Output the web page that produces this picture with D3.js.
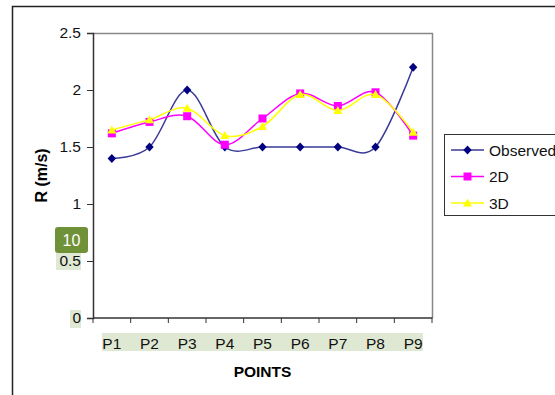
<!DOCTYPE html>
<html>
<head>
<meta charset="utf-8">
<script src="https://cdn.jsdelivr.net/npm/d3@7"></script>
<style>
  body { margin: 0; background: #fff; }
  text { font-family: "Liberation Sans", Arial, sans-serif; }
</style>
</head>
<body>
<div id="chart"></div>
<script>
// data
const points = ["P1", "P2", "P3", "P4", "P5", "P6", "P7", "P8", "P9"];
const observed = [1.4, 1.5, 2.0, 1.5, 1.5, 1.5, 1.5, 1.5, 2.2];
const twoD = [1.62, 1.72, 1.77, 1.52, 1.75, 1.97, 1.86, 1.98, 1.6];
const threeD = [1.65, 1.74, 1.84, 1.6, 1.68, 1.96, 1.82, 1.96, 1.63];
const yTicks = [0, 0.5, 1, 1.5, 2, 2.5];

const width = 555, height = 395;
const plot = { left: 93, right: 432, top: 33, bottom: 318 };
const fontSize = 15.5;

const series = [
    { name: "Observed", values: observed, color: "#000080", line: "#3a3a98", marker: "diamond" },
    { name: "2D", values: twoD, color: "#ff00ff", line: "#ff00ff", marker: "square" },
    { name: "3D", values: threeD, color: "#ffff00", line: "#ffff00", marker: "triangle" }
];

const svg = d3.select("#chart")
    .append("svg")
    .attr("width", width)
    .attr("height", height);

// outer frame
svg.append("rect")
    .attr("x", 12.5).attr("y", 6.5)
    .attr("width", 600).attr("height", 500)
    .attr("fill", "none").attr("stroke", "#222").attr("stroke-width", 1.5);

// scales
const x = d3.scaleBand()
    .domain(points)
    .range([plot.left, plot.right]);
const cx = d => x(d) + x.bandwidth() / 2;

const y = d3.scaleLinear()
    .domain([0, 2.5])
    .range([plot.bottom, plot.top]);

// plot frame (top and right gray)
svg.append("path")
    .attr("d", `M${plot.left},${plot.top + 0.5}H${plot.right + 0.5}V${plot.bottom}`)
    .attr("fill", "none").attr("stroke", "#888").attr("stroke-width", 1.5);

// highlight boxes
svg.append("rect")
    .attr("x", 102).attr("y", 333).attr("width", 321).attr("height", 18)
    .attr("fill", "#dfe8d2");
svg.append("rect")
    .attr("x", 56).attr("y", 253).attr("width", 25).attr("height", 17)
    .attr("fill", "#dfe8d2");
svg.append("rect")
    .attr("x", 70).attr("y", 310).attr("width", 11).attr("height", 18)
    .attr("fill", "#dfe8d2");

// y axis
const yAxis = d3.axisLeft(y)
    .tickValues(yTicks)
    .tickSize(6)
    .tickPadding(6)
    .tickFormat(d => d);
const gy = svg.append("g")
    .attr("transform", `translate(${plot.left}, 0)`)
    .call(yAxis);
gy.select(".domain").attr("stroke", "#333").attr("stroke-width", 1.5);
gy.selectAll(".tick line").attr("stroke", "#333");
gy.selectAll(".tick text")
    .attr("font-size", fontSize)
    .attr("fill", "#111")
    .style("font-family", "'Liberation Sans', Arial, sans-serif");

// x axis (ticks at category boundaries)
const bounds = points.map(p => x(p)).concat([plot.right]);
svg.append("line")
    .attr("x1", plot.left).attr("x2", plot.right + 0.5)
    .attr("y1", plot.bottom).attr("y2", plot.bottom)
    .attr("stroke", "#333").attr("stroke-width", 1.5);
svg.selectAll(".xtick")
    .data(bounds)
    .enter()
    .append("line")
    .attr("class", "xtick")
    .attr("x1", d => d).attr("x2", d => d)
    .attr("y1", plot.bottom).attr("y2", plot.bottom + 5)
    .attr("stroke", "#333");
svg.selectAll(".xlabel")
    .data(points)
    .enter()
    .append("text")
    .attr("class", "xlabel")
    .attr("x", cx)
    .attr("y", 349)
    .attr("text-anchor", "middle")
    .attr("font-size", fontSize)
    .attr("fill", "#111")
    .text(d => d);

// axis titles
svg.append("text")
    .attr("x", (plot.left + plot.right) / 2)
    .attr("y", 377)
    .attr("text-anchor", "middle")
    .attr("font-size", fontSize)
    .attr("font-weight", "bold")
    .text("POINTS");
svg.append("text")
    .attr("transform", `translate(47, ${(plot.top + plot.bottom) / 2}) rotate(-90)`)
    .attr("text-anchor", "middle")
    .attr("font-size", 16)
    .attr("font-weight", "bold")
    .text("R (m/s)");

// marker shapes
function markerPath(type) {
    if (type === "diamond") return "M0,-4.5L4.2,0L0,4.5L-4.2,0Z";
    if (type === "square") return "M-4,-4H4V4H-4Z";
    return "M0,-4.5L4.5,3.5H-4.5Z";
}

// lines
const line = d3.line()
    .x(d => cx(d.p))
    .y(d => y(d.v))
    .curve(d3.curveCardinal.tension(0));

series.forEach(s => {
    const data = points.map((p, i) => ({ p: p, v: s.values[i] }));
    svg.append("path")
        .datum(data)
        .attr("d", line)
        .attr("fill", "none")
        .attr("stroke", s.line)
        .attr("stroke-width", 1.5);
    svg.selectAll(".m-" + s.marker)
        .data(data)
        .enter()
        .append("path")
        .attr("class", "m-" + s.marker)
        .attr("transform", d => `translate(${cx(d.p)}, ${y(d.v)})`)
        .attr("d", markerPath(s.marker))
        .attr("fill", s.color);
});

// legend
const legend = svg.append("g");
legend.append("rect")
    .attr("x", 444.5).attr("y", 134.5)
    .attr("width", 130).attr("height", 81)
    .attr("fill", "#fff").attr("stroke", "#333").attr("stroke-width", 1);
series.forEach((s, i) => {
    const ly = 150 + i * 26.5;
    legend.append("line")
        .attr("x1", 451).attr("x2", 484)
        .attr("y1", ly).attr("y2", ly)
        .attr("stroke", s.line).attr("stroke-width", 1.5);
    legend.append("path")
        .attr("transform", `translate(467.5, ${ly})`)
        .attr("d", markerPath(s.marker))
        .attr("fill", s.color);
    legend.append("text")
        .attr("x", 489)
        .attr("y", ly + 5.5)
        .attr("font-size", fontSize)
        .attr("fill", "#111")
        .text(s.name);
});

// green "10" badge
svg.append("rect")
    .attr("x", 55).attr("y", 227).attr("width", 33).attr("height", 26)
    .attr("rx", 3)
    .attr("fill", "#6f9138");
svg.append("text")
    .attr("x", 71.5).attr("y", 246)
    .attr("text-anchor", "middle")
    .attr("font-size", 16)
    .attr("fill", "#fff")
    .text("10");
</script>
</body>
</html>
